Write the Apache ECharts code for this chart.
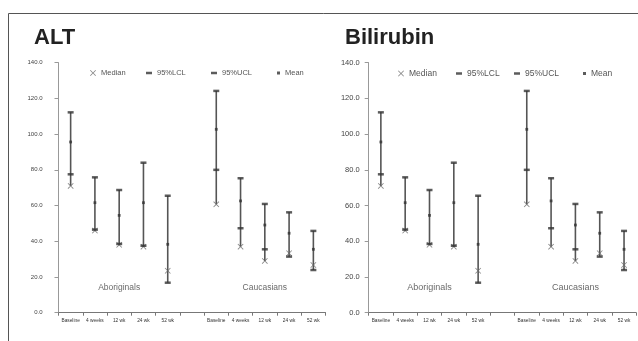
<!DOCTYPE html>
<html>
<head>
<meta charset="utf-8">
<script src="https://cdn.jsdelivr.net/npm/echarts@6/dist/echarts.min.js"></script>
<style>
    html, body { margin: 0; padding: 0; background: #fff; }
    #chart { width: 638px; height: 341px; }
</style>
</head>
<body>
<div id="chart"></div>
<script>
    // 分类（第6格为两组之间的空格）
    const categories = ['Baseline', '4 weeks', '12 wk', '24 wk', '52 wk', '', 'Baseline', '4 weeks', '12 wk', '24 wk', '52 wk']
    const yTicks = [0, 20, 40, 60, 80, 100, 120, 140]

    // ALT
    const altMedian = [71, 46, 38, 37, 23.5, null, 60.7, 37, 29, 33.3, 26.7]
    const altLCL = [77.5, 46.5, 38.5, 37.5, 16.8, null, 80, 47.3, 35.5, 31.4, 23.9]
    const altUCL = [112.2, 75.8, 68.7, 84, 65.5, null, 124.2, 75.3, 60.9, 56.2, 45.8]
    const altMean = [95.6, 61.6, 54.5, 61.6, 38.3, null, 102.7, 62.6, 49.1, 44.5, 35.5]

    // Bilirubin
    const biliMedian = [71, 46, 38, 37, 23.5, null, 60.7, 37, 29, 33.3, 26.7]
    const biliLCL = [77.5, 46.5, 38.5, 37.5, 16.8, null, 80, 47.3, 35.5, 31.4, 23.9]
    const biliUCL = [112.2, 75.8, 68.7, 84, 65.5, null, 124.2, 75.3, 60.9, 56.2, 45.8]
    const biliMean = [95.6, 61.6, 54.5, 61.6, 38.3, null, 102.7, 62.6, 49.1, 44.5, 35.5]

    // 组标签
    const groupNames = ['Aboriginals', 'Caucasians']
    const groupAt = [2, 8]
    const groupY = 14

    const xIcon = 'path://M0,1L1,0L5,4L9,0L10,1L6,5L10,9L9,10L5,6L1,10L0,9L4,5Z'
    const font = 'Liberation Sans'

    const pair = arr => arr.map((v, i) => v == null ? null : [i, v]).filter(Boolean)

    function highLow(sets) {
        const rows = []
        categories.forEach((c, i) => {
            const vals = sets.map(s => s[i]).filter(v => v != null)
            if (vals.length) rows.push([i, Math.max(...vals), Math.min(...vals)])
        })
        return rows
    }

    function panelSeries(idx, med, lcl, ucl, mean) {
        return [
            {
                type: 'custom',
                xAxisIndex: idx, yAxisIndex: idx,
                silent: true,
                encode: {x: 0, y: [1, 2]},
                data: highLow([med, lcl, ucl, mean]),
                renderItem: (params, api) => {
                    const hi = api.coord([api.value(0), api.value(1)])
                    const lo = api.coord([api.value(0), api.value(2)])
                    return {
                        type: 'line',
                        shape: {x1: hi[0], y1: hi[1], x2: lo[0], y2: lo[1]},
                        style: {stroke: '#555', lineWidth: 1.6}
                    }
                }
            },
            {
                name: 'Median', type: 'scatter', xAxisIndex: idx, yAxisIndex: idx,
                symbol: xIcon, symbolSize: 6, data: pair(med),
                itemStyle: {color: '#6a6a6a'}
            },
            {
                name: '95%LCL', type: 'scatter', xAxisIndex: idx, yAxisIndex: idx,
                symbol: 'rect', symbolSize: [6, 2.5], data: pair(lcl),
                itemStyle: {color: '#333'}
            },
            {
                name: '95%UCL', type: 'scatter', xAxisIndex: idx, yAxisIndex: idx,
                symbol: 'rect', symbolSize: [6, 2.5], data: pair(ucl),
                itemStyle: {color: '#333'}
            },
            {
                name: 'Mean', type: 'scatter', xAxisIndex: idx, yAxisIndex: idx,
                symbol: 'rect', symbolSize: 2.8, data: pair(mean),
                itemStyle: {color: '#333'}
            },
            {
                type: 'scatter', xAxisIndex: idx, yAxisIndex: idx,
                silent: true, symbolSize: 0,
                data: groupNames.map((n, k) => ({name: n, value: [groupAt[k], groupY]})),
                label: {
                    show: true, position: 'inside', formatter: '{b}',
                    fontFamily: font, fontSize: idx ? 9 : 8.5, color: '#444'
                }
            }
        ]
    }

    function panelLegends(lefts, size) {
        const items = [
            {name: 'Median', icon: xIcon, w: 6, h: 6},
            {name: '95%LCL', icon: 'rect', w: 6, h: 2.5},
            {name: '95%UCL', icon: 'rect', w: 6, h: 2.5},
            {name: 'Mean', icon: 'rect', w: 3, h: 3}
        ]
        return items.map((it, k) => ({
            data: [{name: it.name, icon: it.icon}],
            left: lefts[k], top: 64,
            itemWidth: it.w, itemHeight: it.h,
            selectedMode: false,
            textStyle: {fontFamily: font, fontSize: size, color: '#555'}
        }))
    }

    function xAxis(idx) {
        return {
            type: 'category', gridIndex: idx, data: categories,
            axisLine: {lineStyle: {color: '#777'}},
            axisTick: {show: true, length: 3, lineStyle: {color: '#777'}},
            axisLabel: {interval: 0, fontFamily: font, fontSize: 4.8, color: '#333', margin: 5}
        }
    }

    function yAxis(idx, size, margin) {
        return {
            type: 'value', gridIndex: idx,
            min: yTicks[0], max: yTicks[yTicks.length - 1], interval: yTicks[1] - yTicks[0],
            splitLine: {show: false},
            axisLine: {show: true, lineStyle: {color: '#999'}},
            axisTick: {show: true, length: 4, lineStyle: {color: '#999'}},
            axisLabel: {
                fontFamily: font, fontSize: size, color: '#444', margin: margin,
                formatter: v => v.toFixed(1)
            }
        }
    }

    const option = {
        animation: false,
        title: [
            {text: 'ALT', left: 29, top: 22, textStyle: {fontFamily: font, fontSize: 22, fontWeight: 'bold', color: '#222'}},
            {text: 'Bilirubin', left: 340, top: 22, textStyle: {fontFamily: font, fontSize: 22, fontWeight: 'bold', color: '#222'}}
        ],
        legend: panelLegends([85, 141, 206, 272], 7.5).concat(panelLegends([393, 451, 509, 578], 8.5)),
        graphic: [{
            type: 'polyline',
            shape: {points: [[8.5, 341], [8.5, 13.5], [638, 13.5]]},
            style: {stroke: '#555', lineWidth: 1, fill: null},
            silent: true
        }],
        grid: [
            {left: 58.5, top: 62.7, width: 267, height: 250},
            {left: 368.7, top: 62.7, width: 267.5, height: 250}
        ],
        xAxis: [xAxis(0), xAxis(1)],
        yAxis: [yAxis(0, 6, 16), yAxis(1, 7.5, 9)],
        series: panelSeries(0, altMedian, altLCL, altUCL, altMean)
            .concat(panelSeries(1, biliMedian, biliLCL, biliUCL, biliMean))
    }

    const chart = echarts.init(document.getElementById('chart'))
    chart.setOption(option)
    window.addEventListener('resize', () => chart.resize())
</script>
</body>
</html>
